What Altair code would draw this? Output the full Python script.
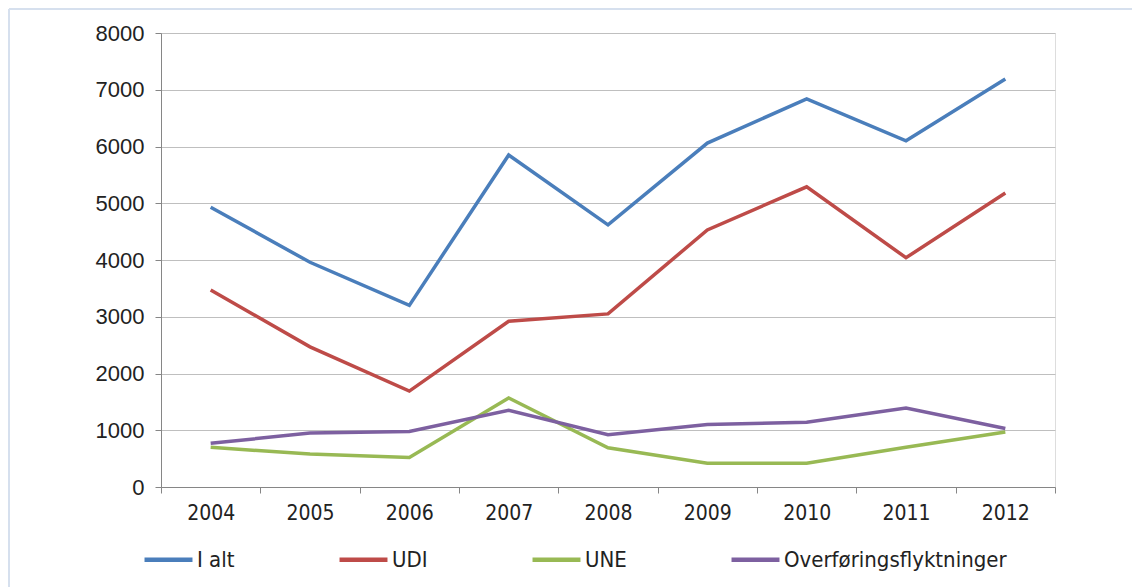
import altair as alt
import pandas as pd

years = ["2004", "2005", "2006", "2007", "2008", "2009", "2010", "2011", "2012"]
series_names = ["I alt", "UDI", "UNE", "Overføringsflyktninger"]
i_alt = [4930, 3960, 3200, 5850, 4620, 6060, 6840, 6100, 7190]
udi = [3470, 2470, 1690, 2920, 3050, 4530, 5290, 4040, 5180]
une = [700, 580, 520, 1570, 690, 420, 420, 700, 970]
overforing = [770, 950, 980, 1350, 920, 1100, 1140, 1390, 1030]
colors = ["#4a7ebb", "#be4b48", "#98b954", "#7d60a0"]

rows = []
for name, vals in zip(series_names, [i_alt, udi, une, overforing]):
    for y, v in zip(years, vals):
        rows.append({"År": y, "Antall": v, "Serie": name, "order": series_names.index(name)})
df = pd.DataFrame(rows)

W, H = 894, 454

lines = alt.Chart(df).mark_line(strokeWidth=3.5).encode(
    x=alt.X("År:O", sort=years, title=None,
            scale=alt.Scale(paddingInner=0, paddingOuter=0),
            axis=alt.Axis(labelAngle=0, tickBand="extent", domainColor="#868686",
                          tickColor="#868686", tickSize=6, labelPadding=9,
                          labelFont="DejaVu Sans Condensed", labelFontSize=21,
                          labelColor="#222222", grid=False)),
    y=alt.Y("Antall:Q", title=None,
            scale=alt.Scale(domain=[0, 8000], nice=False),
            axis=alt.Axis(values=list(range(0, 8001, 1000)), format="d",
                          domainColor="#868686", tickColor="#868686", tickSize=6,
                          gridColor="#bfbfbf", gridWidth=1, labelPadding=11,
                          labelFont="Liberation Sans", labelFontSize=22,
                          labelColor="#222222")),
    color=alt.Color("Serie:N", sort=series_names, title=None,
                    scale=alt.Scale(domain=series_names, range=colors),
                    legend=alt.Legend(orient="none", legendX=-19, legendY=H + 46,
                                      direction="horizontal", symbolType="stroke",
                                      symbolSize=2300, symbolStrokeWidth=4.5,
                                      labelFont="DejaVu Sans Condensed", labelFontSize=22,
                                      labelColor="#222222", labelOffset=2,
                                      columnPadding=95, labelLimit=400)),
    order="order:Q",
    detail="Serie:N",
)

border_top = alt.Chart(pd.DataFrame({"a": [0]})).mark_rule(color="#d6e0ee", strokeWidth=2).encode(
    x=alt.value(-152), x2=alt.value(W + 77), y=alt.value(-24)
)
border_left = alt.Chart(pd.DataFrame({"a": [0]})).mark_rule(color="#d6e0ee", strokeWidth=2).encode(
    x=alt.value(-152), y=alt.value(-24), y2=alt.value(H + 100)
)

chart = alt.layer(border_top, border_left, lines).properties(
    width=W, height=H,
    autosize=alt.AutoSizeParams(type="none"),
    padding={"left": 153, "top": 25, "right": 77, "bottom": 100},
).configure_view(stroke=None).configure(background="white")

chart.save("out.html", embed_options={"renderer": "svg", "actions": False})
